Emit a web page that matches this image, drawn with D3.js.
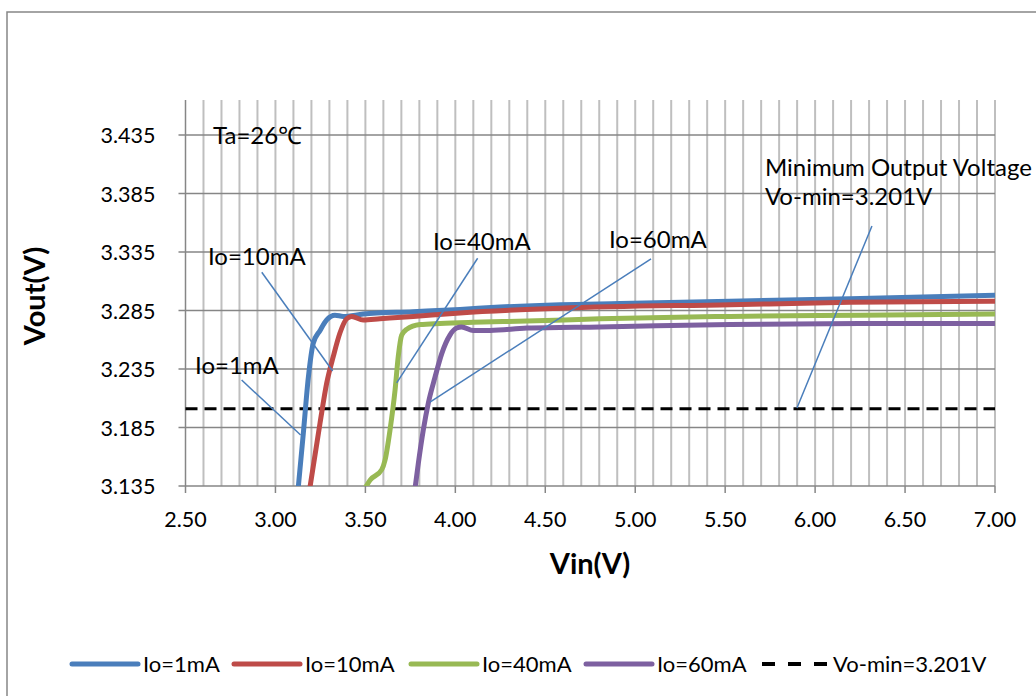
<!DOCTYPE html>
<html>
<head>
<meta charset="utf-8">
<script src="https://cdn.jsdelivr.net/npm/d3@7"></script>
<style>
  html, body { margin: 0; padding: 0; background: #fff; }
  svg { display: block; }
  text { font-family: Lato, "Open Sans", sans-serif; fill: #000; }
</style>
</head>
<body>
<svg id="chart" width="1036" height="696"></svg>
<script>
// ---- data ----
const xTicks = [2.5, 3.0, 3.5, 4.0, 4.5, 5.0, 5.5, 6.0, 6.5, 7.0];
const yTicks = [3.135, 3.185, 3.235, 3.285, 3.335, 3.385, 3.435];
const seriesNames = ["Io=1mA", "Io=10mA", "Io=40mA", "Io=60mA"];
const voMinLabel = "Vo-min=3.201V";
const voMin = 3.201;

const io1mA = [
  [3.127, 3.134], [3.155, 3.180], [3.183, 3.228], [3.210, 3.257], [3.248, 3.268],
  [3.285, 3.277], [3.331, 3.281], [3.377, 3.280], [3.488, 3.282], [3.765, 3.284],
  [4.026, 3.286], [4.248, 3.288], [4.582, 3.290], [4.915, 3.291], [5.527, 3.293],
  [6.194, 3.295], [7.000, 3.298]
];
const io10mA = [
  [3.192, 3.134], [3.248, 3.189], [3.285, 3.223], [3.322, 3.246], [3.359, 3.266],
  [3.396, 3.278], [3.424, 3.280], [3.488, 3.277], [3.581, 3.278], [3.766, 3.280],
  [4.026, 3.283], [4.582, 3.287], [5.527, 3.290], [6.194, 3.292], [7.000, 3.293]
];
const io40mA = [
  [3.498, 3.133], [3.526, 3.140], [3.591, 3.149], [3.609, 3.157], [3.637, 3.183],
  [3.665, 3.217], [3.683, 3.246], [3.702, 3.264], [3.730, 3.269], [3.804, 3.273],
  [3.915, 3.274], [4.100, 3.275], [4.398, 3.276], [4.804, 3.278], [5.527, 3.280],
  [6.250, 3.281], [7.000, 3.282]
];
const io60mA = [
  [3.776, 3.133], [3.794, 3.154], [3.822, 3.183], [3.850, 3.206], [3.887, 3.228],
  [3.924, 3.248], [3.970, 3.264], [4.007, 3.270], [4.035, 3.271], [4.100, 3.268],
  [4.193, 3.268], [4.398, 3.270], [4.804, 3.271], [5.527, 3.273], [6.250, 3.274],
  [7.000, 3.274]
];
const seriesData = [io1mA, io10mA, io40mA, io60mA];

// annotation texts and leader lines, in data units
const labels = [
  { text: "Ta=26\u2103", x: 2.653, y: 3.4274 },
  { text: "Io=10mA", x: 2.625, y: 3.324 },
  { text: "Io=1mA", x: 2.553, y: 3.2308 },
  { text: "Io=40mA", x: 3.876, y: 3.3368 },
  { text: "Io=60mA", x: 4.854, y: 3.3385 },
  { text: "Minimum Output Voltage", x: 5.721, y: 3.400 },
  { text: "Vo-min=3.201V", x: 5.721, y: 3.3753 }
];
const leaders = [
  [[2.812, 3.2256], [3.140, 3.1786]],
  [[2.924, 3.3177], [3.318, 3.2333]],
  [[4.124, 3.3297], [3.674, 3.2231]],
  [[5.088, 3.3291], [3.859, 3.2068]],
  [[6.316, 3.3573], [5.899, 3.2017]]
];

// ---- styles ----
const colors = ["#4A7EBB", "#BE4B48", "#98B954", "#7D60A0"];

const svg = d3.select("#chart");
const W = 1036, H = 696;
const plot = { left: 185.5, right: 995, top: 100, bottom: 486 };

const x = d3.scaleLinear().domain([2.5, 7.0]).range([plot.left, plot.right]);
const y = d3.scaleLinear().domain([3.135, 3.465]).range([plot.bottom, plot.top]);

// outer chart border
svg.append("rect").attr("x", 7).attr("y", 12).attr("width", W + 20).attr("height", H + 20)
  .attr("fill", "#fff").attr("stroke", "#868686").attr("stroke-width", 1.5);

// vertical minor gridlines every 0.1
const vGrid = d3.range(26, 71).map(d => d / 10);
svg.append("g").selectAll("line").data(vGrid).join("line")
  .attr("x1", d => x(d)).attr("x2", d => x(d))
  .attr("y1", plot.top).attr("y2", plot.bottom)
  .attr("stroke", "#bfbfbf").attr("stroke-width", 2);

// horizontal major gridlines (extend into tick)
svg.append("g").selectAll("line").data(yTicks).join("line")
  .attr("x1", plot.left - 7).attr("x2", plot.right)
  .attr("y1", d => y(d)).attr("y2", d => y(d))
  .attr("stroke", "#868686").attr("stroke-width", 1.5);

// y axis line
svg.append("line").attr("x1", plot.left).attr("x2", plot.left)
  .attr("y1", plot.top).attr("y2", plot.bottom)
  .attr("stroke", "#868686").attr("stroke-width", 1.5);

// x axis ticks
svg.append("g").selectAll("line").data(xTicks).join("line")
  .attr("x1", d => x(d)).attr("x2", d => x(d))
  .attr("y1", plot.bottom).attr("y2", plot.bottom + 7)
  .attr("stroke", "#868686").attr("stroke-width", 1.5);

// tick labels
svg.append("g").selectAll("text").data(xTicks).join("text")
  .attr("x", d => x(d)).attr("y", plot.bottom + 41)
  .attr("text-anchor", "middle").attr("font-size", 21.5)
  .text(d => d3.format(".2f")(d));
svg.append("g").selectAll("text").data(yTicks).join("text")
  .attr("x", plot.left - 30).attr("y", d => y(d) + 8)
  .attr("text-anchor", "end").attr("font-size", 21.5)
  .text(d => d3.format(".3f")(d));

// axis titles
svg.append("text").attr("x", 590).attr("y", 574).attr("text-anchor", "middle")
  .attr("font-size", 29).attr("font-weight", "bold").text("Vin(V)");
svg.append("text").attr("transform", "translate(45,296) rotate(-90)").attr("text-anchor", "middle")
  .attr("font-size", 29).attr("font-weight", "bold").text("Vout(V)");

// clip
svg.append("clipPath").attr("id", "clip").append("rect")
  .attr("x", plot.left).attr("y", plot.top - 3)
  .attr("width", plot.right - plot.left + 3).attr("height", plot.bottom - plot.top + 3);

// Vo-min dashed line
svg.append("line")
  .attr("x1", x(2.5)).attr("x2", x(7.0)).attr("y1", y(voMin)).attr("y2", y(voMin))
  .attr("stroke", "#000").attr("stroke-width", 3).attr("stroke-dasharray", "12,7");

// series
const line = d3.line().x(d => x(d[0])).y(d => y(d[1])).curve(d3.curveMonotoneX);
svg.append("g").attr("clip-path", "url(#clip)").selectAll("path").data(seriesData).join("path")
  .attr("d", line).attr("fill", "none")
  .attr("stroke", (d, i) => colors[i]).attr("stroke-width", 5)
  .attr("stroke-linejoin", "round").attr("stroke-linecap", "butt");

// leader lines
svg.append("g").selectAll("line").data(leaders).join("line")
  .attr("x1", d => x(d[0][0])).attr("y1", d => y(d[0][1]))
  .attr("x2", d => x(d[1][0])).attr("y2", d => y(d[1][1]))
  .attr("stroke", "#4A7EBB").attr("stroke-width", 1.5);

// annotation texts
svg.append("g").selectAll("text").data(labels).join("text")
  .attr("x", d => x(d.x)).attr("y", d => y(d.y))
  .attr("font-size", 24).text(d => d.text);

// legend
const legendItems = [
  { name: seriesNames[0], color: colors[0], x0: 72, dash: null },
  { name: seriesNames[1], color: colors[1], x0: 234, dash: null },
  { name: seriesNames[2], color: colors[2], x0: 411, dash: null },
  { name: seriesNames[3], color: colors[3], x0: 586, dash: null },
  { name: voMinLabel, color: "#000", x0: 762, dash: "13,13" }
];
const lg = svg.append("g").selectAll("g").data(legendItems).join("g");
lg.append("line").attr("x1", d => d.x0).attr("x2", d => d.x0 + 66)
  .attr("y1", 664).attr("y2", 664)
  .attr("stroke", d => d.color).attr("stroke-width", d => d.dash ? 4 : 5)
  .attr("stroke-linecap", d => d.dash ? "butt" : "round")
  .attr("stroke-dasharray", d => d.dash);
lg.append("text").attr("x", d => d.x0 + 71).attr("y", 672)
  .attr("font-size", 22).text(d => d.name);
</script>
</body>
</html>
